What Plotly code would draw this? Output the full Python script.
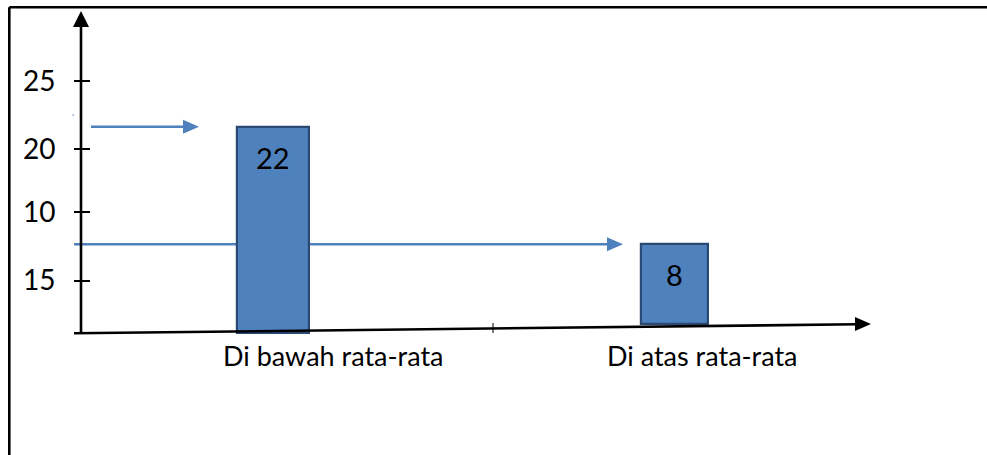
import plotly.graph_objects as go

# ---- data ----
CATEGORIES = ["Di bawah rata-rata", "Di atas rata-rata"]
VALUES = [22, 8]
TICK_LABELS = ["25", "20", "10", "15"]
TICK_POS = [27.44, 19.38, 11.88, 3.67]   # where each (hand-drawn) tick label sits on the axis

# ---- styling ----
W, H = 987, 455
FONT = "Lato"
BAR_FILL = "#4F81BD"
BAR_EDGE = "#2B4A73"
ARROW = "#4F81BD"
BAR_WIDTH = [0.181, 0.1677]
BAR_BASE = [-2.6, -1.5]          # bars stand on the slanted baseline
LABEL_XSHIFT = [60, 28]

def X(px):
    return px / W

def Y(py):
    return 1 - py / H

fig = go.Figure()

fig.add_trace(go.Bar(
    x=CATEGORIES,
    y=[v - b for v, b in zip(VALUES, BAR_BASE)],
    base=BAR_BASE,
    width=BAR_WIDTH,
    marker=dict(color=BAR_FILL, line=dict(color=BAR_EDGE, width=2.2)),
    hoverinfo="skip",
    showlegend=False,
))

annotations = []
for c, v in zip(CATEGORIES, VALUES):
    annotations.append(dict(x=c, y=v, xref="x", yref="y", text=str(v), showarrow=False,
                            yanchor="middle", yshift=-30.5,
                            font=dict(family=FONT, size=29, color="black")))
for c, s in zip(CATEGORIES, LABEL_XSHIFT):
    annotations.append(dict(x=c, y=Y(355), xref="x", yref="paper", text=c, showarrow=False,
                            xanchor="center", yanchor="middle", xshift=s,
                            font=dict(family=FONT, size=27, color="black")))

shapes = []
blk = dict(color="black", width=2.6)
# outer frame (top and left only)
shapes.append(dict(type="line", xref="paper", yref="paper", x0=X(9.3), y0=Y(7.3), x1=1, y1=Y(7.3), line=blk))
shapes.append(dict(type="line", xref="paper", yref="paper", x0=X(9.3), y0=Y(7.3), x1=X(9.3), y1=0, line=blk))
# y axis with arrowhead
shapes.append(dict(type="line", xref="paper", yref="paper", x0=X(81), y0=Y(333.5), x1=X(81), y1=Y(25), line=blk))
shapes.append(dict(type="path", xref="paper", yref="paper",
                   path=f"M {X(81)} {Y(11)} L {X(73)} {Y(27)} L {X(89)} {Y(27)} Z",
                   fillcolor="black", line=dict(width=0)))
# slanted x axis with arrowhead
shapes.append(dict(type="line", xref="paper", yref="paper", x0=X(74), y0=Y(333.3), x1=X(857), y1=Y(324.3), line=blk))
shapes.append(dict(type="path", xref="paper", yref="paper",
                   path=f"M {X(871)} {Y(324)} L {X(855)} {Y(317)} L {X(855)} {Y(331)} Z",
                   fillcolor="black", line=dict(width=0)))
shapes.append(dict(type="line", xref="paper", yref="paper", x0=X(493), y0=Y(323), x1=X(493), y1=Y(333),
                   line=dict(color="black", width=1)))
# level arrows pointing at each bar
arrow_spans = [(91, 199), (74, 623)]
for (xs, xt), v in zip(arrow_spans, VALUES):
    shapes.append(dict(type="line", xref="paper", yref="y", x0=X(xs), x1=X(xt - 12), y0=v, y1=v,
                       line=dict(color=ARROW, width=2.4), layer="below"))
    shapes.append(dict(type="path", xref="paper", yref="y", ysizemode="pixel", yanchor=v,
                       path=f"M {X(xt)} 0 L {X(xt - 16)} 7 L {X(xt - 16)} -7 Z",
                       fillcolor=ARROW, line=dict(width=0), layer="below"))
# tiny stray dot
shapes.append(dict(type="rect", xref="paper", yref="paper", x0=X(72.5), x1=X(73.8), y0=Y(114.5), y1=Y(115.8),
                   fillcolor=ARROW, line=dict(width=0)))

fig.update_layout(
    width=W, height=H,
    margin=dict(l=0, r=0, t=0, b=0),
    paper_bgcolor="white", plot_bgcolor="white",
    showlegend=False,
    bargap=0,
    xaxis=dict(type="category", range=[-0.6802, 1.7790], showticklabels=False, showgrid=False,
               zeroline=False, showline=False, ticks="", fixedrange=True),
    yaxis=dict(range=[-17.08, 37.08], anchor="free", position=X(90), side="left",
               tickvals=TICK_POS, ticktext=TICK_LABELS, ticks="outside", ticklen=16,
               tickwidth=1.5, tickcolor="black", ticklabelstandoff=13,
               tickfont=dict(family=FONT, size=28, color="black"),
               showgrid=False, zeroline=False, showline=False, fixedrange=True),
    annotations=annotations,
    shapes=shapes,
)

fig.write_html("out.html")
